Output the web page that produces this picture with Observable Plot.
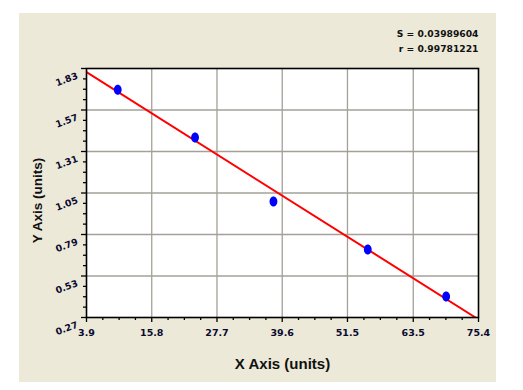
<!DOCTYPE html>
<html>
<head>
<meta charset="utf-8">
<script src="https://cdn.jsdelivr.net/npm/d3@7"></script>
<script src="https://cdn.jsdelivr.net/npm/@observablehq/plot@0.6"></script>
<style>
  html, body { margin: 0; padding: 0; background: white; }
  #wrap { position: relative; width: 523px; height: 390px; }
  #panel { position: absolute; left: 19px; top: 13px; width: 477px; height: 369px; background: #ECE9D8; }
  #chart { position: absolute; left: 0; top: 0; }
</style>
</head>
<body>
<div id="wrap"><div id="panel"></div><div id="chart"></div></div>
<script>
// Data
const pointX = [9.6, 23.7, 38.0, 55.2, 69.5];
const pointY = [1.697, 1.398, 0.997, 0.696, 0.402];
const fitX = [3.9, 74.85];
const fitY = [1.807, 0.27];
const xTicks = [3.9, 15.8, 27.7, 39.6, 51.5, 63.5, 75.4];
const xTickLabels = ["3.9", "15.8", "27.7", "39.6", "51.5", "63.5", "75.4"];
const yTicks = [0.27, 0.53, 0.79, 1.05, 1.31, 1.57, 1.83];
const yTickLabels = ["0.27", "0.53", "0.79", "1.05", "1.31", "1.57", "1.83"];
const statLines = ["S = 0.03989604", "r = 0.99781221"];
const xTitle = "X Axis (units)";
const yTitle = "Y Axis (units)";

const points = pointX.map((x, i) => ({x, y: pointY[i]}));
const fit = fitX.map((x, i) => ({x, y: fitY[i]}));

// minor ticks: 4 subdivisions between majors
function minors(t) {
  const out = [];
  for (let i = 0; i < t.length - 1; i++)
    for (let k = 1; k < 4; k++) out.push(t[i] + (t[i + 1] - t[i]) * k / 4);
  return out;
}
const xMinor = minors(xTicks);
const yMinor = minors(yTicks);

// ellipse symbol (taller than wide)
const ellipse = {
  draw(ctx, size) {
    const rx = 3.9, ry = 5, k = 0.5523;
    ctx.moveTo(rx, 0);
    ctx.bezierCurveTo(rx, k * ry, k * rx, ry, 0, ry);
    ctx.bezierCurveTo(-k * rx, ry, -rx, k * ry, -rx, 0);
    ctx.bezierCurveTo(-rx, -k * ry, -k * rx, -ry, 0, -ry);
    ctx.bezierCurveTo(k * rx, -ry, rx, -k * ry, rx, 0);
    ctx.closePath();
  }
};

const grid = "#a3a098";
const tickFont = "DejaVu Sans";
const tickColor = "#0a0a30";

const chart = Plot.plot({
  width: 523,
  height: 390,
  marginLeft: 86,
  marginRight: 45,
  marginTop: 68,
  marginBottom: 73,
  style: {background: "transparent", overflow: "visible"},
  x: {domain: [3.9, 75.4]},
  y: {domain: [0.27, 1.83]},
  marks: [
    Plot.frame({fill: "white"}),
    Plot.gridX(xTicks.slice(1, -1), {stroke: grid, strokeOpacity: 1, strokeWidth: 1.3}),
    Plot.gridY(yTicks.slice(1, -1), {stroke: grid, strokeOpacity: 1, strokeWidth: 1.3}),
    Plot.axisX({ticks: xTicks, tickSize: 5, tickFormat: () => "", label: null, stroke: "black", strokeWidth: 1.3}),
    Plot.axisX({ticks: xMinor, tickSize: 3, tickFormat: () => "", label: null, stroke: "black", strokeWidth: 1.3}),
    Plot.axisY({ticks: yTicks, tickSize: 5, tickFormat: () => "", label: null, stroke: "black", strokeWidth: 1.3}),
    Plot.axisY({ticks: yMinor, tickSize: 3, tickFormat: () => "", label: null, stroke: "black", strokeWidth: 1.3}),
    Plot.line(fit, {x: "x", y: "y", stroke: "#ff0000", strokeWidth: 2, clip: true}),
    Plot.dot(points, {x: "x", y: "y", symbol: ellipse, fill: "#0000ff", stroke: "none"}),
    Plot.frame({stroke: "black", strokeWidth: 1.6}),
    // x tick labels
    Plot.text(xTicks, {x: d => d, text: (d, i) => xTickLabels[i], frameAnchor: "bottom", dy: 15,
      fontFamily: tickFont, fontWeight: "bold", fontSize: 9.5, fill: tickColor, lineAnchor: "middle"}),
    // y tick labels (rotated)
    Plot.text(yTicks, {y: d => d, text: (d, i) => yTickLabels[i], frameAnchor: "left", dx: -9, dy: 7,
      textAnchor: "end", lineAnchor: "middle", rotate: -20, fontFamily: tickFont, fontWeight: "bold", fontSize: 9.3, fill: tickColor}),
    // statistics
    Plot.text([statLines[0]], {text: d => d, frameAnchor: "top-right", dx: 0, dy: -34, textAnchor: "end", lineAnchor: "middle",
      fontFamily: tickFont, fontWeight: "bold", fontSize: 9.2, fill: "#111"}),
    Plot.text([statLines[1]], {text: d => d, frameAnchor: "top-right", dx: 0, dy: -19, textAnchor: "end", lineAnchor: "middle",
      fontFamily: tickFont, fontWeight: "bold", fontSize: 9.2, fill: "#111"}),
    // axis titles
    Plot.text([xTitle], {text: d => d, frameAnchor: "bottom", dy: 47, lineAnchor: "middle", fontFamily: "Liberation Sans",
      fontWeight: "bold", fontSize: 15, fill: "#111"}),
    Plot.text([yTitle], {text: d => d, frameAnchor: "left", dx: -49, dy: 7.5, rotate: -90, textAnchor: "middle", lineAnchor: "middle",
      fontFamily: "Liberation Sans", fontWeight: "bold", fontSize: 13.5, fill: "#111"})
  ]
});
document.getElementById("chart").appendChild(chart);
</script>
</body>
</html>
